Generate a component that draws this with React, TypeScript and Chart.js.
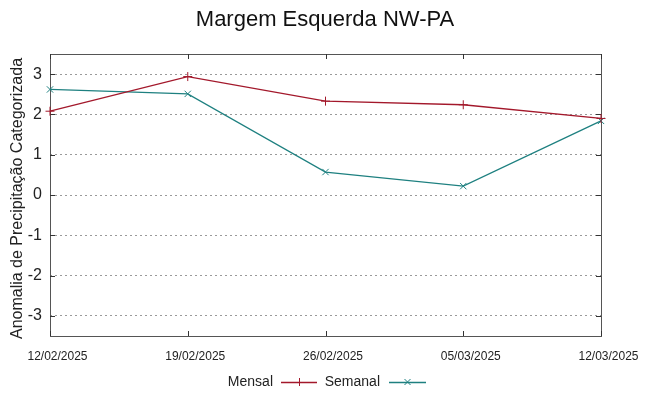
import React, { useEffect, useRef } from "react";
import { Chart, registerables } from "chart.js";
Chart.register(...registerables);

const categories = ["12/02/2025", "19/02/2025", "26/02/2025", "05/03/2025", "12/03/2025"];
const mensal = [2.08, 2.94, 2.33, 2.24, 1.9];
const semanal = [2.62, 2.51, 0.57, 0.22, 1.84];
const yTicks = [-3, -2, -1, 0, 1, 2, 3];
const chartTitle = "Margem Esquerda NW-PA";
const yTitle = "Anomalia de Precipitação Categorizada";
const seriesNames = ["Mensal", "Semanal"];
const seriesColors = ["#a3182b", "#1e8080"];
const seriesMarkers = ["cross", "crossRot"];

const FONT = "'Liberation Sans', Arial, sans-serif";

const framePlugin = {
  id: "frame",
  beforeDatasetsDraw(chart: any) {
    const { ctx, chartArea } = chart;
    const { left, right, top, bottom } = chartArea;
    ctx.save();
    ctx.strokeStyle = "#555";
    ctx.lineWidth = 1;
    ctx.strokeRect(left + 0.5, top + 0.5, right - left, bottom - top);
    ctx.strokeStyle = "#333";
    const ys = chart.scales.y;
    yTicks.forEach((v) => {
      const py = Math.round(ys.getPixelForValue(v)) + 0.5;
      ctx.beginPath();
      ctx.moveTo(left, py);
      ctx.lineTo(left + 5, py);
      ctx.moveTo(right, py);
      ctx.lineTo(right - 5, py);
      ctx.stroke();
    });
    const xs = chart.scales.x;
    categories.forEach((_, i) => {
      const px = Math.round(xs.getPixelForValue(i)) + 0.5;
      ctx.beginPath();
      ctx.moveTo(px, bottom);
      ctx.lineTo(px, bottom - 5);
      ctx.moveTo(px, top);
      ctx.lineTo(px, top + 5);
      ctx.stroke();
    });
    ctx.restore();
  },
};

const textPlugin = {
  id: "texts",
  afterDraw(chart: any) {
    const { ctx } = chart;
    ctx.save();
    ctx.fillStyle = "#111";
    ctx.font = `22px ${FONT}`;
    ctx.textAlign = "center";
    ctx.textBaseline = "middle";
    ctx.fillText(chartTitle, 325, 20);

    ctx.save();
    ctx.translate(18, 198.5);
    ctx.rotate(-Math.PI / 2);
    ctx.font = `16px ${FONT}`;
    ctx.fillStyle = "#222";
    ctx.fillText(yTitle, 0, 0);
    ctx.restore();

    const items = [
      { textRight: 273, lineFrom: 281, lineTo: 317 },
      { textRight: 380, lineFrom: 389, lineTo: 426 },
    ];
    const ly = 382;
    ctx.font = `14px ${FONT}`;
    ctx.textAlign = "right";
    items.forEach((it, i) => {
      ctx.fillStyle = "#222";
      ctx.fillText(seriesNames[i], it.textRight, ly);
      ctx.strokeStyle = seriesColors[i];
      ctx.lineWidth = 1.5;
      ctx.beginPath();
      ctx.moveTo(it.lineFrom, ly + 0.5);
      ctx.lineTo(it.lineTo, ly + 0.5);
      ctx.stroke();
      const cx = (it.lineFrom + it.lineTo) / 2;
      ctx.lineWidth = 1;
      ctx.beginPath();
      if (seriesMarkers[i] === "cross") {
        ctx.moveTo(cx - 4, ly + 0.5);
        ctx.lineTo(cx + 4, ly + 0.5);
        ctx.moveTo(cx + 0.5, ly - 4);
        ctx.lineTo(cx + 0.5, ly + 4);
      } else {
        ctx.moveTo(cx - 3, ly - 3);
        ctx.lineTo(cx + 3, ly + 3);
        ctx.moveTo(cx + 3, ly - 3);
        ctx.lineTo(cx - 3, ly + 3);
      }
      ctx.stroke();
    });
    ctx.restore();
  },
};

export default function App() {
  const ref = useRef<HTMLCanvasElement | null>(null);
  useEffect(() => {
    if (!ref.current) return;
    const datasets = [mensal, semanal].map((d, i) => ({
      label: seriesNames[i],
      data: d,
      borderColor: seriesColors[i],
      backgroundColor: seriesColors[i],
      borderWidth: 1.3,
      pointStyle: seriesMarkers[i] as any,
      pointRadius: 4.5,
      pointBorderWidth: 1,
      pointBorderColor: seriesColors[i],
      tension: 0,
      clip: false as any,
      fill: false,
    }));
    const chart = new Chart(ref.current, {
      type: "line",
      data: { labels: categories, datasets },
      options: {
        animation: false,
        responsive: false,
        devicePixelRatio: 1,
        layout: { padding: { left: 0, right: 48, top: 54, bottom: 0 } },
        plugins: {
          legend: { display: false },
          title: { display: false },
          tooltip: { enabled: false },
        },
        scales: {
          x: {
            type: "category",
            offset: false,
            afterFit: (s: any) => {
              s.height = 60;
            },
            grid: { display: false, drawTicks: false },
            border: { display: false },
            ticks: {
              color: "#222",
              font: { family: FONT, size: 12 },
              padding: 13,
              labelOffset: 7.5,
              maxRotation: 0,
              autoSkip: false,
            },
          },
          y: {
            type: "linear",
            min: -3.5,
            max: 3.5,
            afterFit: (s: any) => {
              s.width = 50;
            },
            afterBuildTicks: (s: any) => {
              s.ticks = yTicks.map((v) => ({ value: v }));
            },
            grid: {
              drawTicks: false,
              color: "#9a9a9a",
              lineWidth: 1,
            },
            border: { display: false, dash: [2, 3] },
            ticks: {
              color: "#222",
              font: { family: FONT, size: 16 },
              padding: 8,
            },
          },
        },
      },
      plugins: [framePlugin, textPlugin],
    });
    return () => chart.destroy();
  }, []);
  return (
    <div style={{ position: "fixed", left: 0, top: 0, width: 649, height: 396, background: "#fff" }}>
      <canvas ref={ref} width={649} height={396} style={{ width: 649, height: 396 }} />
    </div>
  );
}
